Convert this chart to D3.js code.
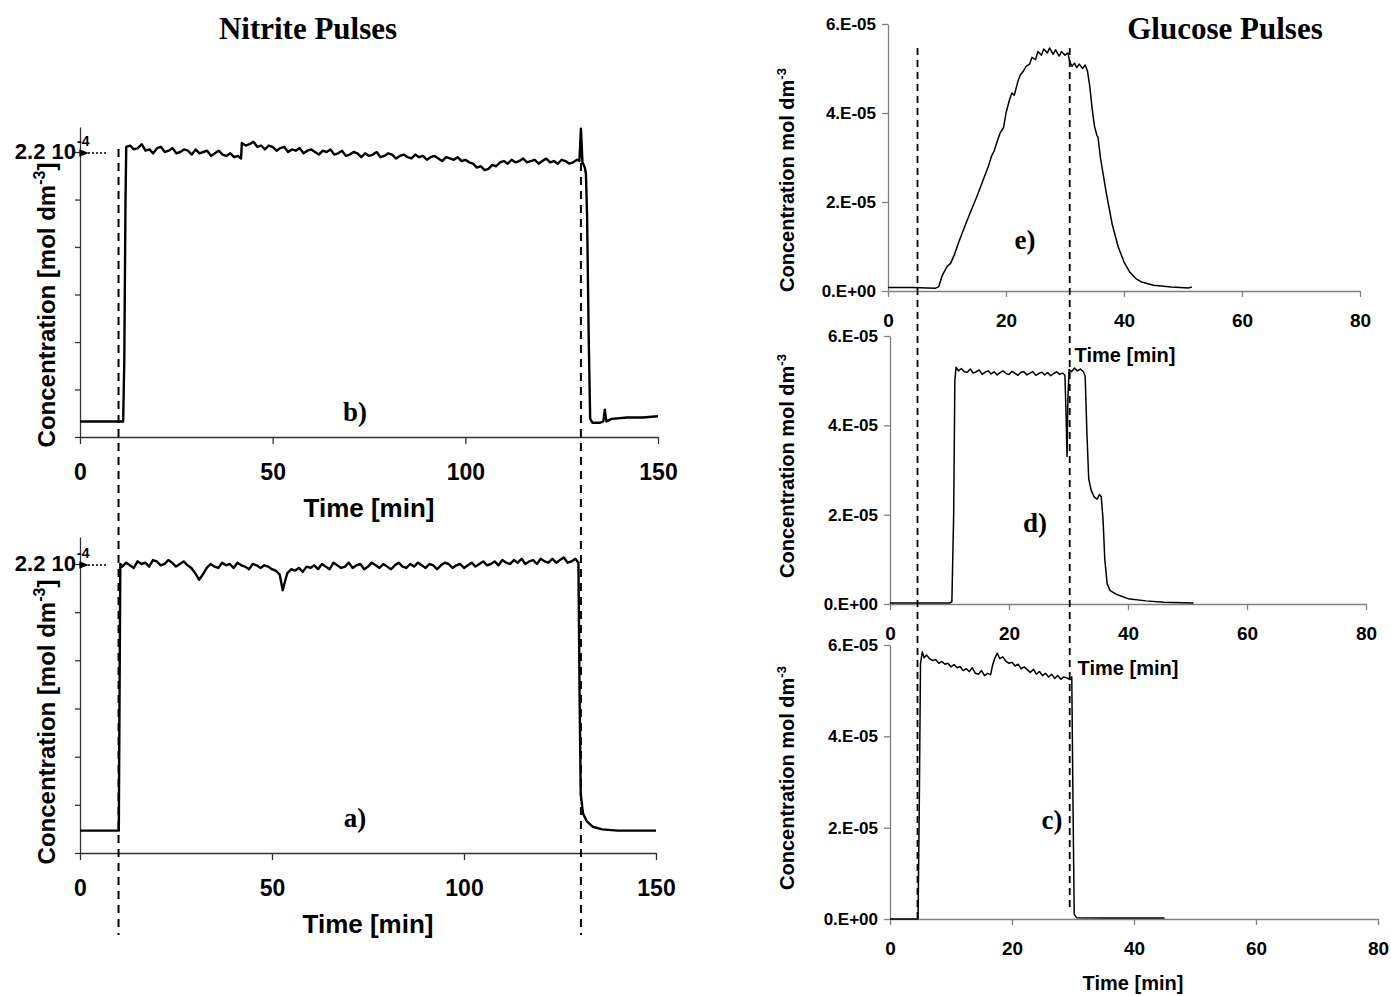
<!DOCTYPE html>
<html>
<head>
<meta charset="utf-8">
<script src="https://cdn.jsdelivr.net/npm/d3@7"></script>
<style>
  body { margin: 0; background: #fff; }
</style>
</head>
<body>
<div id="chart"></div>
<script>
// ---- data ----
// nitrite traces: [time min, concentration in 1e-4 mol dm^-3]
const nitriteB = [
  [0, 0.12], [5, 0.12], [11.2, 0.12], [11.5, 0.6], [11.8, 1.8], [12, 2.24],
  [13, 2.25], [14, 2.22], [15, 2.23], [16, 2.26], [17, 2.21], [18, 2.22], [19, 2.19], [20, 2.23],
  [21, 2.24], [22, 2.20], [23, 2.21], [24, 2.23], [25, 2.19], [26, 2.20], [27, 2.22], [28, 2.21],
  [29, 2.18], [30, 2.22], [31, 2.19], [32, 2.20], [33, 2.21], [34, 2.17], [35, 2.19], [36, 2.21],
  [37, 2.18], [38, 2.17], [39, 2.19], [40, 2.16], [41, 2.17], [41.8, 2.15], [42, 2.27], [43, 2.25],
  [44, 2.26], [45, 2.28], [46, 2.24], [47, 2.25], [48, 2.22], [49, 2.25], [50, 2.24], [51, 2.21],
  [52, 2.23], [53, 2.24], [54, 2.20], [55, 2.22], [56, 2.21], [57, 2.23], [58, 2.19], [59, 2.21],
  [60, 2.22], [61, 2.20], [62, 2.18], [63, 2.21], [64, 2.20], [65, 2.22], [66, 2.18], [67, 2.19],
  [68, 2.21], [69, 2.17], [70, 2.18], [71, 2.20], [72, 2.19], [73, 2.16], [74, 2.19], [75, 2.17],
  [76, 2.18], [77, 2.20], [78, 2.16], [79, 2.17], [80, 2.19], [81, 2.18], [82, 2.15], [83, 2.17],
  [84, 2.18], [85, 2.16], [86, 2.15], [87, 2.18], [88, 2.16], [89, 2.17], [90, 2.14], [91, 2.16],
  [92, 2.17], [93, 2.15], [94, 2.13], [95, 2.16], [96, 2.15], [97, 2.14], [98, 2.16], [99, 2.13],
  [100, 2.14], [101, 2.12], [102, 2.11], [103, 2.08], [104, 2.09], [105, 2.06], [106, 2.07], [107, 2.10],
  [108, 2.09], [109, 2.12], [110, 2.13], [111, 2.11], [112, 2.14], [113, 2.12], [114, 2.13], [115, 2.15],
  [116, 2.12], [117, 2.13], [118, 2.14], [119, 2.11], [120, 2.13], [121, 2.15], [122, 2.12], [123, 2.13],
  [124, 2.11], [125, 2.14], [126, 2.13], [127, 2.11], [128, 2.12], [129, 2.14], [129.6, 2.13], [130, 2.38],
  [130.4, 2.12], [131, 2.08], [131.3, 2.03], [131.6, 1.7], [132, 0.8], [132.4, 0.14], [133, 0.11],
  [135, 0.11], [135.8, 0.12], [136.2, 0.21], [136.6, 0.12], [138, 0.14], [142, 0.15], [146, 0.15], [150, 0.16]
];

const nitriteA = [
  [0, 0.17], [5, 0.17], [10.1, 0.17], [10.3, 1.2], [10.5, 2.2],
  [11, 2.18], [12, 2.21], [13, 2.19], [14, 2.17], [15, 2.22], [16, 2.20], [17, 2.21], [18, 2.18],
  [19, 2.23], [20, 2.22], [21, 2.19], [22, 2.20], [23, 2.23], [24, 2.21], [25, 2.18], [26, 2.20],
  [27, 2.22], [28, 2.19], [29, 2.17], [30, 2.13], [31, 2.08], [32, 2.12], [33, 2.17], [34, 2.20],
  [35, 2.18], [36, 2.17], [37, 2.21], [38, 2.19], [39, 2.20], [40, 2.17], [41, 2.21], [42, 2.19],
  [43, 2.18], [44, 2.16], [45, 2.20], [46, 2.19], [47, 2.17], [48, 2.19], [49, 2.18], [50, 2.16],
  [51, 2.15], [52, 2.12], [52.8, 2.00], [53.5, 2.08], [54, 2.13], [55, 2.16], [56, 2.15], [57, 2.17],
  [58, 2.14], [59, 2.18], [60, 2.17], [61, 2.19], [62, 2.16], [63, 2.20], [64, 2.18], [65, 2.16],
  [66, 2.21], [67, 2.19], [68, 2.17], [69, 2.18], [70, 2.21], [71, 2.17], [72, 2.19], [73, 2.20],
  [74, 2.16], [75, 2.18], [76, 2.21], [77, 2.19], [78, 2.17], [79, 2.20], [80, 2.18], [81, 2.16],
  [82, 2.19], [83, 2.21], [84, 2.18], [85, 2.17], [86, 2.20], [87, 2.18], [88, 2.21], [89, 2.19],
  [90, 2.17], [91, 2.20], [92, 2.19], [93, 2.16], [94, 2.19], [95, 2.21], [96, 2.20], [97, 2.17],
  [98, 2.19], [99, 2.20], [100, 2.17], [101, 2.19], [102, 2.21], [103, 2.18], [104, 2.20], [105, 2.22],
  [106, 2.19], [107, 2.20], [108, 2.22], [109, 2.19], [110, 2.23], [111, 2.21], [112, 2.20], [113, 2.23],
  [114, 2.21], [115, 2.24], [116, 2.20], [117, 2.22], [118, 2.23], [119, 2.20], [120, 2.24], [121, 2.22],
  [122, 2.21], [123, 2.24], [124, 2.21], [125, 2.23], [126, 2.25], [127, 2.21], [128, 2.22], [129, 2.24],
  [129.8, 2.21], [130.1, 1.2], [130.4, 0.45], [131, 0.30], [132, 0.24], [133.5, 0.20], [136, 0.18],
  [140, 0.17], [145, 0.17], [150, 0.17]
];

// glucose traces: [time min, concentration in 1e-5 mol dm^-3]
const glucoseE = [
  [0, 0.08], [4, 0.08], [8, 0.06], [8.6, 0.1], [9.2, 0.35], [10, 0.55], [10.6, 0.62], [11.2, 0.8],
  [12, 1.1], [13, 1.45], [14, 1.78], [15, 2.1], [16, 2.45], [17, 2.8], [17.6, 3.05], [18, 3.15],
  [18.6, 3.4], [19, 3.55], [19.6, 3.68], [20, 4.0], [20.6, 4.3], [21, 4.45], [21.4, 4.4], [22, 4.7],
  [22.4, 4.85], [23, 4.95], [23.4, 5.05], [24, 5.1], [24.4, 5.25], [25, 5.2], [25.4, 5.38], [26, 5.3],
  [26.4, 5.44], [27, 5.35], [27.4, 5.46], [28, 5.32], [28.4, 5.42], [29, 5.28], [29.4, 5.38], [30, 5.3],
  [30.5, 5.35], [30.8, 5.15], [31.2, 5.05], [31.6, 5.12], [32, 5.02], [32.4, 5.1], [33, 5.0], [33.4, 5.08],
  [33.8, 4.95], [34.2, 4.6], [34.6, 4.1], [35, 3.7], [35.4, 3.5], [35.6, 3.45], [36, 3.0], [37, 2.2],
  [38, 1.5], [39, 1.0], [40, 0.65], [41, 0.42], [42, 0.28], [43, 0.2], [45, 0.13], [48, 0.09],
  [51, 0.07], [51.5, 0.09]
];

const glucoseD = [
  [0, 0.02], [10, 0.02], [10.4, 0.05], [10.7, 2.0], [10.9, 5.0], [11.1, 5.3], [11.5, 5.22], [12, 5.27],
  [12.5, 5.2], [13, 5.19], [13.5, 5.26], [14, 5.17], [14.5, 5.2], [15, 5.24], [15.5, 5.14], [16, 5.19],
  [16.5, 5.22], [17, 5.15], [17.5, 5.2], [18, 5.13], [18.5, 5.18], [19, 5.22], [19.5, 5.16], [20, 5.14],
  [20.5, 5.21], [21, 5.17], [21.5, 5.12], [22, 5.19], [22.5, 5.2], [23, 5.13], [23.5, 5.17], [24, 5.2],
  [24.5, 5.12], [25, 5.16], [25.5, 5.19], [26, 5.13], [26.5, 5.18], [27, 5.11], [27.5, 5.16], [28, 5.2],
  [28.5, 5.14], [29, 5.17], [29.4, 5.12], [29.6, 4.2], [29.75, 3.3], [29.9, 4.6], [30.1, 5.25], [30.5, 5.2],
  [31, 5.28], [31.5, 5.22], [32, 5.26], [32.5, 5.2], [32.8, 5.1], [33.1, 3.8], [33.4, 2.8], [33.8, 2.55],
  [34.3, 2.4], [34.8, 2.35], [35.2, 2.45], [35.5, 2.4], [35.8, 1.9], [36.1, 1.0], [36.5, 0.45], [37, 0.3],
  [38, 0.22], [40, 0.12], [43, 0.07], [46, 0.04], [51, 0.02]
];

const glucoseC = [
  [0, 0.0], [4.6, 0.0], [4.8, 2.5], [5.0, 5.6], [5.3, 5.85], [5.6, 5.72], [6, 5.78], [6.5, 5.7],
  [7, 5.66], [7.5, 5.68], [8, 5.6], [8.5, 5.64], [9, 5.58], [9.5, 5.6], [10, 5.52], [10.5, 5.57],
  [11, 5.5], [11.5, 5.53], [12, 5.44], [12.5, 5.48], [13, 5.42], [13.5, 5.5], [14, 5.38], [14.5, 5.36],
  [15, 5.44], [15.5, 5.33], [16, 5.38], [16.5, 5.35], [16.8, 5.55], [17.2, 5.72], [17.6, 5.82], [18, 5.7],
  [18.5, 5.74], [19, 5.64], [19.5, 5.6], [20, 5.62], [20.5, 5.54], [21, 5.58], [21.5, 5.48], [22, 5.52],
  [22.5, 5.46], [23, 5.4], [23.5, 5.47], [24, 5.36], [24.5, 5.42], [25, 5.33], [25.5, 5.38], [26, 5.3],
  [26.5, 5.36], [27, 5.27], [27.5, 5.33], [28, 5.25], [28.5, 5.3], [29, 5.28], [29.5, 5.24], [29.8, 5.3],
  [30, 2.5], [30.2, 0.1], [30.6, 0.03], [35, 0.02], [40, 0.02], [45, 0.02]
];

// axes / annotations
const nitriteXTicks = [0, 50, 100, 150];
const nitriteYTicks = [0, 0.367, 0.733, 1.1, 1.467, 1.833, 2.2];
const nitriteLevel = 2.2;
const nitritePulseMarks = [10, 130];

const glucoseXTicks = [0, 20, 40, 60, 80];
const glucoseYTicks = [0, 2, 4, 6];
const glucoseYLabels = ["0.E+00", "2.E-05", "4.E-05", "6.E-05"];
const glucosePulseMarks = [5, 30.8];

// ---- drawing ----
const W = 1391, H = 996;
const sans = "'Liberation Sans', Arial, sans-serif";
const serif = "'Liberation Serif', 'Times New Roman', serif";

const svg = d3.select("#chart").append("svg")
  .attr("width", W)
  .attr("height", H)
  .style("background", "#fff");

svg.append("defs").append("marker")
  .attr("id", "arrow")
  .attr("viewBox", "0 0 10 10")
  .attr("refX", 1).attr("refY", 5)
  .attr("markerWidth", 6).attr("markerHeight", 6)
  .attr("orient", "auto")
  .append("path")
  .attr("d", "M10,1 L0,5 L10,9 Z")
  .attr("fill", "#000");

// titles
svg.append("text").attr("x", 308).attr("y", 39).attr("text-anchor", "middle")
  .attr("font-family", serif).attr("font-weight", "bold").attr("font-size", 31)
  .text("Nitrite Pulses");
svg.append("text").attr("x", 1225).attr("y", 39).attr("text-anchor", "middle")
  .attr("font-family", serif).attr("font-weight", "bold").attr("font-size", 31)
  .text("Glucose Pulses");

function styleAxis(g, color, fontSize) {
  g.select(".domain").attr("stroke", color).attr("stroke-width", 1.3);
  g.selectAll(".tick line").attr("stroke", color).attr("stroke-width", 1.3);
  g.selectAll(".tick text")
    .attr("fill", "#000")
    .attr("font-family", sans)
    .attr("font-weight", "bold")
    .attr("font-size", fontSize);
}

function drawNitrite(data, L) {
  const x = d3.scaleLinear().domain([0, 150]).range([L.left, L.right]);
  const y = d3.scaleLinear().domain([0, nitriteLevel]).range([L.bottom, L.mark]);
  y.domain([0, y.invert(L.top)]).range([L.bottom, L.top]);
  const g = svg.append("g");

  const ya = g.append("g").attr("transform", `translate(${L.left},0)`)
    .call(d3.axisLeft(y).tickValues(nitriteYTicks).tickFormat("").tickSize(5).tickSizeOuter(0));
  styleAxis(ya, "#333", 22);

  const xa = g.append("g").attr("transform", `translate(0,${L.bottom})`)
    .call(d3.axisBottom(x).tickValues(nitriteXTicks).tickSize(7).tickPadding(L.tickPad).tickSizeOuter(0));
  styleAxis(xa, "#333", 23);

  g.append("text")
    .attr("x", (L.left + L.right) / 2).attr("y", L.bottom + L.timeDy)
    .attr("text-anchor", "middle")
    .attr("font-family", sans).attr("font-weight", "bold").attr("font-size", 26)
    .text("Time [min]");

  const yl = g.append("text")
    .attr("transform", `translate(55,${L.labelY}) rotate(-90)`)
    .attr("text-anchor", "middle")
    .attr("font-family", sans).attr("font-weight", "bold").attr("font-size", 24);
  yl.append("tspan").text("Concentration [mol dm");
  yl.append("tspan").attr("dy", -10).attr("font-size", 16).text("-3");
  yl.append("tspan").attr("dy", 10).text("]");

  // 2.2 10^-4 level marker
  g.append("text")
    .attr("x", 76).attr("y", y(nitriteLevel) + 7)
    .attr("text-anchor", "end")
    .attr("font-family", sans).attr("font-weight", "bold").attr("font-size", 22)
    .text("2.2 10");
  g.append("text")
    .attr("x", 77).attr("y", y(nitriteLevel) - 6)
    .attr("font-family", sans).attr("font-weight", "bold").attr("font-size", 14)
    .text("-4");
  g.append("line")
    .attr("x1", 106).attr("x2", 88)
    .attr("y1", y(nitriteLevel) + 1).attr("y2", y(nitriteLevel) + 1)
    .attr("stroke", "#000").attr("stroke-width", 1.6)
    .attr("stroke-dasharray", "2,2")
    .attr("marker-end", "url(#arrow)");

  g.append("path")
    .datum(data)
    .attr("fill", "none")
    .attr("stroke", "#000")
    .attr("stroke-width", 2.4)
    .attr("stroke-linejoin", "round")
    .attr("d", d3.line().x(d => x(d[0])).y(d => y(d[1])));

  g.append("text")
    .attr("x", L.letterX).attr("y", L.letterY)
    .attr("text-anchor", "middle")
    .attr("font-family", serif).attr("font-weight", "bold").attr("font-size", 27)
    .text(L.letter);
  return x;
}

function drawGlucose(data, L) {
  const x = d3.scaleLinear().domain([0, 80]).range([L.left, L.right]);
  const y = d3.scaleLinear().domain([0, 6]).range([L.bottom, L.top]);
  const g = svg.append("g");

  const ya = g.append("g").attr("transform", `translate(${L.left},0)`)
    .call(d3.axisLeft(y).tickValues(glucoseYTicks)
      .tickFormat((d, i) => glucoseYLabels[i]).tickSize(6).tickPadding(6).tickSizeOuter(0));
  styleAxis(ya, "#808080", 17);

  const xa = g.append("g").attr("transform", `translate(0,${L.bottom})`)
    .call(d3.axisBottom(x).tickValues(glucoseXTicks).tickSize(6).tickPadding(17).tickSizeOuter(0));
  styleAxis(xa, "#808080", 19);

  g.append("text")
    .attr("x", L.timeX).attr("y", L.bottom + 71)
    .attr("text-anchor", "middle")
    .attr("font-family", sans).attr("font-weight", "bold").attr("font-size", 20)
    .text("Time [min]");

  const yl = g.append("text")
    .attr("transform", `translate(794,${L.labelY}) rotate(-90)`)
    .attr("text-anchor", "middle")
    .attr("font-family", sans).attr("font-weight", "bold").attr("font-size", 20);
  yl.append("tspan").text("Concentration mol dm");
  yl.append("tspan").attr("dy", -8).attr("font-size", 13).text("-3");

  g.append("path")
    .datum(data)
    .attr("fill", "none")
    .attr("stroke", "#000")
    .attr("stroke-width", 1.5)
    .attr("stroke-linejoin", "round")
    .attr("d", d3.line().x(d => x(d[0])).y(d => y(d[1])));

  g.append("text")
    .attr("x", L.letterX).attr("y", L.letterY)
    .attr("text-anchor", "middle")
    .attr("font-family", serif).attr("font-weight", "bold").attr("font-size", 27)
    .text(L.letter);
  return x;
}

const xB = drawNitrite(nitriteB, { left: 80, right: 658, top: 127, mark: 152, bottom: 437, tickPad: 20, timeDy: 80, labelY: 305, letter: "b)", letterX: 355, letterY: 421 });
drawNitrite(nitriteA, { left: 80, right: 656, top: 537, mark: 564, bottom: 853, tickPad: 20, timeDy: 80, labelY: 722, letter: "a)", letterX: 355, letterY: 827 });

const xE = drawGlucose(glucoseE, { left: 888, right: 1360, top: 24, bottom: 291, timeX: 1125, labelY: 180, letter: "e)", letterX: 1025, letterY: 249 });
drawGlucose(glucoseD, { left: 890, right: 1366, top: 336, bottom: 604, timeX: 1128, labelY: 466, letter: "d)", letterX: 1035, letterY: 532 });
drawGlucose(glucoseC, { left: 890, right: 1378, top: 645, bottom: 919, timeX: 1133, labelY: 778, letter: "c)", letterX: 1052, letterY: 829 });

// pulse start/stop markers spanning the stacked panels
svg.append("g").selectAll("line")
  .data(nitritePulseMarks)
  .join("line")
  .attr("x1", d => xB(d)).attr("x2", d => xB(d))
  .attr("y1", 149).attr("y2", 935)
  .attr("stroke", "#000").attr("stroke-width", 2)
  .attr("stroke-dasharray", "8,6");

svg.append("g").selectAll("line")
  .data(glucosePulseMarks)
  .join("line")
  .attr("x1", d => xE(d)).attr("x2", d => xE(d))
  .attr("y1", 48).attr("y2", (d, i) => i === 0 ? 918 : 908)
  .attr("stroke", "#000").attr("stroke-width", 1.8)
  .attr("stroke-dasharray", "7,5");
</script>
</body>
</html>
